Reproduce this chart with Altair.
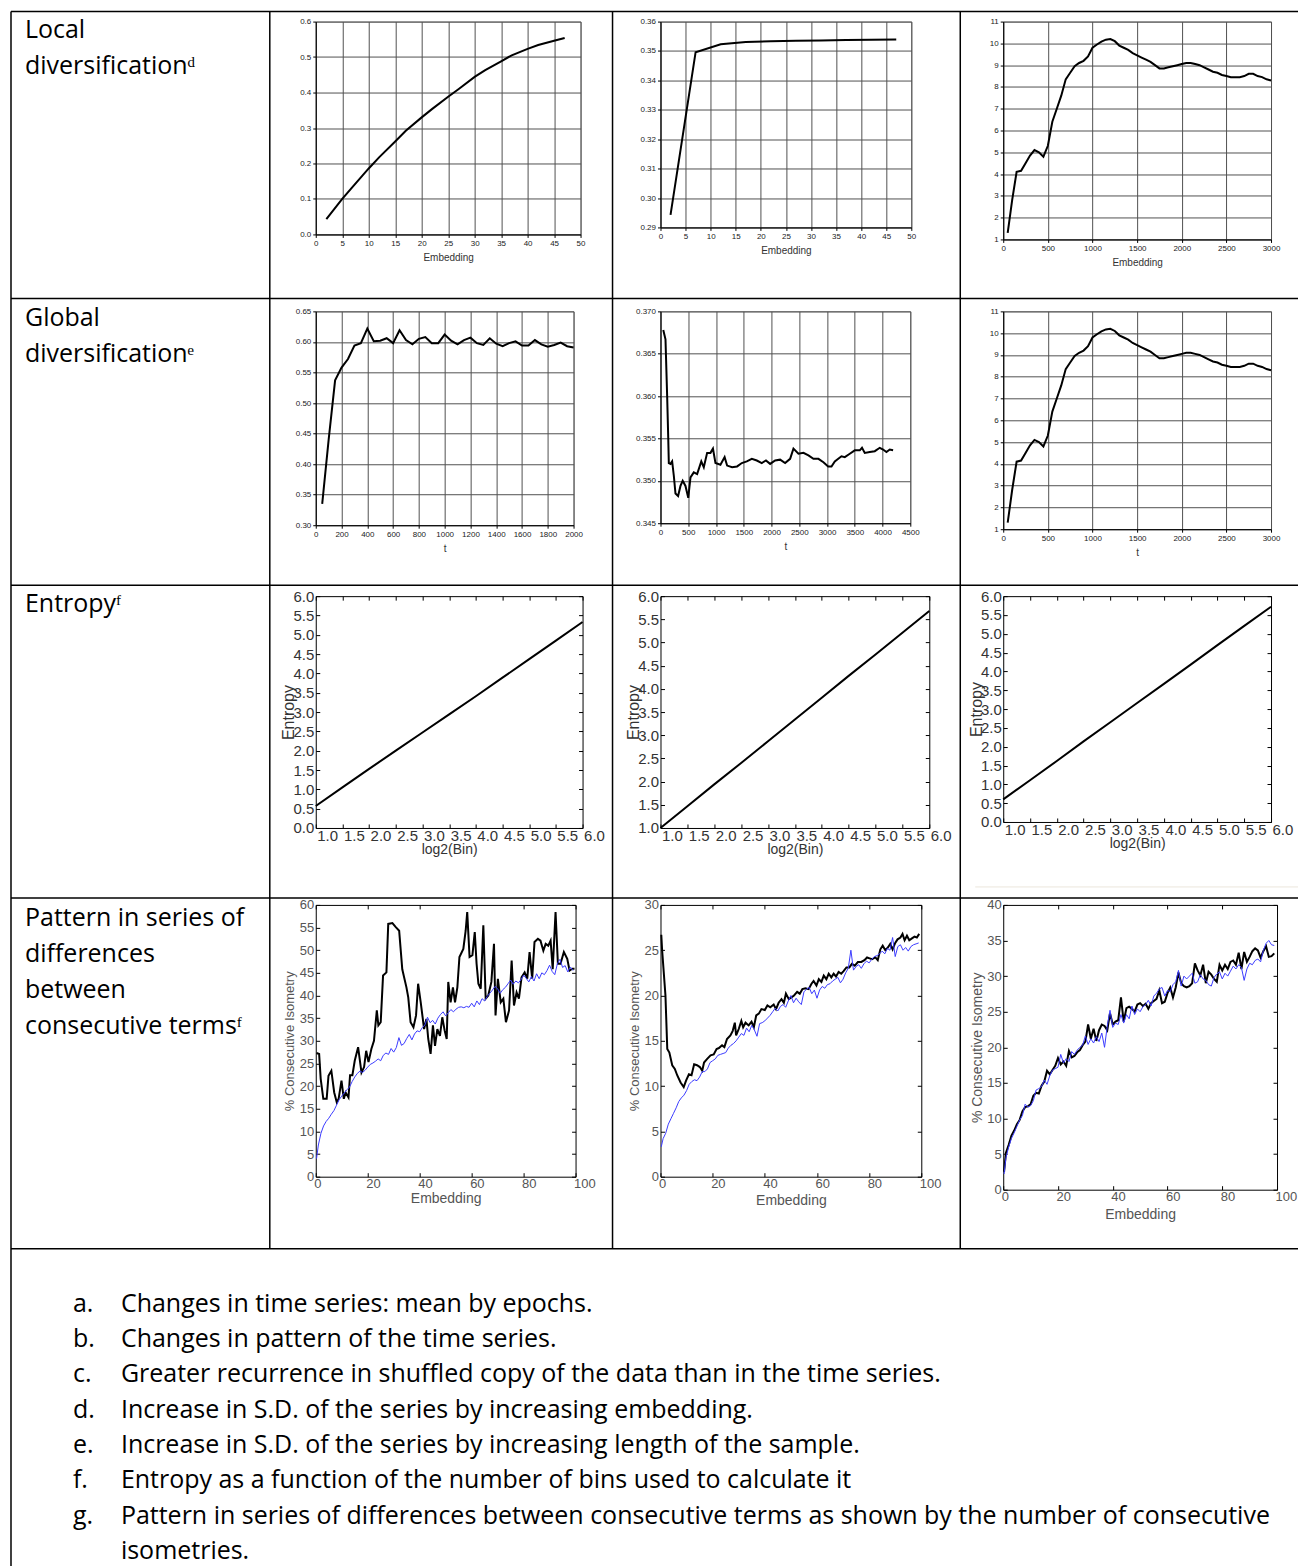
import altair as alt
import pandas as pd

TEXT_FONT = "Open Sans"
AXIS_FONT = "Liberation Sans"
TEXT_SIZE = 25
LINE_GAP = 36
FOOT_GAP = 35.4

# ---------------- texts ----------------
ROW_LABELS = [
    ["Local", "diversificationᵈ"],
    ["Global", "diversificationᵉ"],
    ["Entropyᶠ"],
    ["Pattern in series of", "differences", "between", "consecutive termsᶠ"],
]
FOOT_LETTERS = ["a.", "b.", "c.", "d.", "e.", "f.", "g.", ""]
FOOT_TEXTS = [
    "Changes in time series: mean by epochs.",
    "Changes in pattern of the time series.",
    "Greater recurrence in shuffled copy of the data than in the time series.",
    "Increase in S.D. of the series by increasing embedding.",
    "Increase in S.D. of the series by increasing length of the sample.",
    "Entropy as a function of the number of bins used to calculate it",
    "Pattern in series of differences between consecutive terms as shown by the number of consecutive",
    "isometries.",
]

# ---------------- row 1: local diversification ----------------
R1C1_X = [2, 5, 7, 10, 12, 15, 17, 20, 22, 25, 27, 30, 32, 35, 37, 40, 42, 45, 47]
R1C1_Y = [0.043, 0.100, 0.135, 0.186, 0.218, 0.262, 0.292, 0.330, 0.354, 0.388, 0.410,
          0.444, 0.463, 0.488, 0.505, 0.523, 0.534, 0.546, 0.554]
R1C1_XT = [0, 5, 10, 15, 20, 25, 30, 35, 40, 45, 50]
R1C1_YT = [0.0, 0.1, 0.2, 0.3, 0.4, 0.5, 0.6]

R1C2_X = [2, 7, 12, 17, 22, 27, 32, 37, 42, 47]
R1C2_Y = [0.2943, 0.3496, 0.3523, 0.3531, 0.3533, 0.3535, 0.3536, 0.3537, 0.3538, 0.3539]
R1C2_XT = [0, 5, 10, 15, 20, 25, 30, 35, 40, 45, 50]
R1C2_YT = [0.29, 0.30, 0.31, 0.32, 0.33, 0.34, 0.35, 0.36]

R1C3_X = [50, 100, 150, 200, 250, 300, 350, 400, 450, 500,
          550, 600, 650, 700, 750, 800, 850, 900, 950, 1000,
          1050, 1100, 1150, 1200, 1250, 1300, 1350, 1400, 1450, 1500,
          1550, 1600, 1650, 1700, 1750, 1800, 1850, 1900, 1950, 2000,
          2050, 2100, 2150, 2200, 2250, 2300, 2350, 2400, 2450, 2500,
          2550, 2600, 2650, 2700, 2750, 2800, 2850, 2900, 2950, 3000]
R1C3_Y = [1.3, 2.8, 4.1, 4.15, 4.5, 4.85, 5.1, 5.0, 4.8, 5.3,
          6.4, 7.0, 7.6, 8.35, 8.65, 8.95, 9.1, 9.2, 9.4, 9.8,
          9.95, 10.08, 10.17, 10.2, 10.1, 9.9, 9.8, 9.7, 9.55, 9.45,
          9.35, 9.25, 9.15, 9.0, 8.85, 8.85, 8.9, 8.95, 9.0, 9.05,
          9.1, 9.1, 9.05, 9.0, 8.9, 8.8, 8.7, 8.65, 8.55, 8.5,
          8.45, 8.45, 8.45, 8.5, 8.6, 8.6, 8.5, 8.45, 8.35, 8.3]
R1C3_XT = [0, 500, 1000, 1500, 2000, 2500, 3000]
R1C3_YT = [1, 2, 3, 4, 5, 6, 7, 8, 9, 10, 11]

# ---------------- row 2: global diversification ----------------
R2C1_X = [50, 100, 150, 200, 250, 300, 350, 400, 450, 500,
          550, 600, 650, 700, 750, 800, 850, 900, 950, 1000,
          1050, 1100, 1150, 1200, 1250, 1300, 1350, 1400, 1450, 1500,
          1550, 1600, 1650, 1700, 1750, 1800, 1850, 1900, 1950, 2000]
R2C1_Y = [0.335, 0.440, 0.537, 0.558, 0.572, 0.594, 0.598, 0.622, 0.601, 0.602,
          0.606, 0.598, 0.619, 0.603, 0.596, 0.605, 0.608, 0.598, 0.598, 0.612,
          0.602, 0.596, 0.603, 0.607, 0.598, 0.595, 0.606, 0.597, 0.593, 0.598,
          0.601, 0.594, 0.594, 0.603, 0.596, 0.592, 0.595, 0.599, 0.593, 0.591]
R2C1_XT = [0, 200, 400, 600, 800, 1000, 1200, 1400, 1600, 1800, 2000]
R2C1_YT = [0.30, 0.35, 0.40, 0.45, 0.50, 0.55, 0.60, 0.65]

R2C2_X = [50, 90, 120, 140, 150, 180, 210, 240, 270, 317,
          360, 400, 450, 500, 540, 600, 660, 735, 780, 840,
          900, 945, 990, 1080, 1155, 1200, 1290, 1380, 1465, 1555,
          1645, 1735, 1825, 1900, 1975, 2065, 2155, 2245, 2335, 2395,
          2485, 2575, 2665, 2755, 2845, 2935, 3020, 3080, 3140, 3260,
          3320, 3410, 3500, 3590, 3630, 3680, 3770, 3860, 3950, 4010,
          4070, 4130, 4190]
R2C2_Y = [0.3678, 0.3667, 0.3600, 0.3549, 0.3521, 0.3520, 0.3523, 0.3506, 0.3485, 0.3482,
          0.3494, 0.3500, 0.3494, 0.3480, 0.3504, 0.3510, 0.3508, 0.3523, 0.3516, 0.3533,
          0.3533, 0.3538, 0.3521, 0.3519, 0.3528, 0.3518, 0.3516, 0.3517, 0.3521, 0.3523,
          0.3526, 0.3524, 0.3521, 0.3524, 0.3520, 0.3524, 0.3525, 0.3521, 0.3526, 0.3538,
          0.3532, 0.3533, 0.3530, 0.3526, 0.3526, 0.3522, 0.3517, 0.3517, 0.3523, 0.3529,
          0.3528, 0.3532, 0.3536, 0.3536, 0.3539, 0.3533, 0.3534, 0.3535, 0.3539, 0.3537,
          0.3534, 0.3537, 0.3536]
R2C2_XT = [0, 500, 1000, 1500, 2000, 2500, 3000, 3500, 4000, 4500]
R2C2_YT = [0.345, 0.350, 0.355, 0.360, 0.365, 0.370]

# ---------------- row 3: entropy ----------------
R3_X = [1.0, 1.5, 2.0, 2.5, 3.0, 3.5, 4.0, 4.5, 5.0, 5.5, 6.0]
R3C1_Y = [0.57, 1.05, 1.53, 2.00, 2.47, 2.94, 3.41, 3.89, 4.37, 4.85, 5.33]
R3C2_Y = [1.00, 1.47, 1.94, 2.40, 2.87, 3.34, 3.81, 4.28, 4.74, 5.21, 5.68]
R3C3_Y = [0.60, 1.11, 1.62, 2.14, 2.65, 3.16, 3.67, 4.18, 4.70, 5.21, 5.72]
R3_XT = [1.0, 1.5, 2.0, 2.5, 3.0, 3.5, 4.0, 4.5, 5.0, 5.5, 6.0]
R3_YT = [0.0, 0.5, 1.0, 1.5, 2.0, 2.5, 3.0, 3.5, 4.0, 4.5, 5.0, 5.5, 6.0]
R3C2_YT = [1.0, 1.5, 2.0, 2.5, 3.0, 3.5, 4.0, 4.5, 5.0, 5.5, 6.0]

# ---------------- row 4: consecutive isometry ----------------
EMB = [0.3, 1, 2, 3, 4, 5, 6, 7, 8, 9,
       10, 11, 12, 13, 14, 15, 16, 17, 18, 19,
       20, 21, 22, 23, 24, 25, 26, 27, 28, 29,
       30, 31, 32, 33, 34, 35, 36, 37, 38, 39,
       40, 41, 42, 43, 44, 45, 46, 47, 48, 49,
       50, 51, 52, 53, 54, 55, 56, 57, 58, 59,
       60, 61, 62, 63, 64, 65, 66, 67, 68, 69,
       70, 71, 72, 73, 74, 75, 76, 77, 78, 79,
       80, 81, 82, 83, 84, 85, 86, 87, 88, 89,
       90, 91, 92, 93, 94, 95, 96, 97, 98, 99]

R4C1_BLACK_X = [0.3, 1.3, 1.9, 2.9, 4.2, 4.9, 6.0, 7.1, 8.1, 8.8,
                9.9, 10.8, 11.5, 12.6, 13.2, 14.1, 15.0, 16.3, 17.6, 18.6,
                19.4, 20.3, 21.4, 22.4, 23.5, 24.1, 25.0, 25.9, 27.2, 27.9,
                29.5, 30.8, 32.1, 33.3, 34.9, 35.6, 36.5, 37.6, 38.6, 39.4,
                40.4, 41.7, 42.6, 43.3, 44.2, 45.1, 45.9, 46.8, 47.8, 48.7,
                49.6, 50.4, 51.0, 51.9, 52.8, 53.6, 54.5, 55.3, 56.8, 57.7,
                58.3, 59.2, 60.3, 61.2, 61.9, 62.6, 63.5, 64.5, 65.4, 66.4,
                67.6, 68.6, 69.2, 70.1, 71.2, 72.2, 73.2, 74.4, 75.4, 76.3,
                77.3, 78.2, 79.2, 80.4, 81.4, 82.3, 83.3, 84.2, 85.5, 86.5,
                87.6, 88.5, 89.5, 90.4, 91.2, 92.3, 93.2, 94.2, 95.5, 96.8,
                97.7, 98.7, 99.6]
R4C1_BLACK_Y = [27.3, 27.1, 21.6, 17.2, 17.2, 22.3, 23.4, 18.6, 16.4, 17.2,
                21.2, 17.2, 18.6, 17.5, 22.4, 22.4, 25.6, 28.6, 23.0, 24.2,
                27.8, 25.3, 28.2, 30.0, 36.7, 33.4, 34.1, 44.4, 45.1, 55.8,
                56.0, 55.1, 54.3, 45.8, 41.8, 39.6, 34.1, 33.0, 35.6, 42.6,
                38.5, 32.6, 34.8, 30.4, 27.1, 33.4, 28.9, 32.6, 31.1, 35.2,
                32.3, 30.4, 43.0, 38.5, 41.8, 38.5, 41.8, 48.5, 50.3, 54.3,
                58.4, 48.5, 48.9, 54.0, 47.0, 42.6, 41.5, 55.5, 39.3, 40.0,
                43.0, 51.4, 35.6, 43.7, 38.5, 39.3, 34.1, 36.7, 47.7, 37.8,
                40.7, 39.3, 44.0, 45.1, 43.7, 49.6, 43.7, 51.8, 52.5, 52.1,
                49.9, 51.4, 51.0, 52.1, 45.8, 58.4, 47.0, 47.0, 49.6, 48.1,
                45.5, 45.9, 45.9]
R4C1_BLUE_Y = [4.0, 7.0, 9.6, 11.2, 12.2, 12.9, 13.8, 14.6, 15.8, 17.0,
               17.8, 18.5, 19.2, 19.8, 21.0, 22.0, 22.8, 23.3, 23.0, 23.5,
               24.2, 24.8, 25.1, 25.5, 26.0, 25.6, 26.8, 27.3, 27.0, 28.3,
               27.5, 28.5, 30.7, 29.0, 29.4, 30.5, 31.4, 30.2, 31.5, 32.2,
               32.0, 32.9, 33.5, 35.2, 34.0, 34.5, 33.7, 35.0, 35.8, 36.4,
               35.5, 36.2, 36.9, 36.4, 37.0, 37.4, 37.5, 37.3, 37.6, 37.4,
               38.3, 37.5, 38.8, 38.0, 39.3, 38.8, 39.8, 40.5, 41.2, 42.0,
               41.5, 40.5, 41.3, 41.8, 42.6, 43.4, 42.5, 43.2, 42.8, 43.5,
               44.5, 43.8, 43.0, 44.2, 43.2, 44.8, 43.7, 45.0, 44.6, 45.5,
               46.7, 45.3, 44.6, 47.0, 48.0, 46.2, 46.6, 45.2, 46.3, 45.5]

R4C2_BLACK_X = [0.3, 0.6, 1.9, 2.6, 3.4, 4.5, 5.5, 6.4, 7.7, 8.9,
                9.8, 10.9, 11.9, 12.9, 14.0, 15.1, 16.0, 16.7, 17.9, 19.2,
                20.4, 21.5, 22.4, 23.6, 24.5, 25.5, 26.8, 27.7, 28.5, 29.0,
                30.0, 31.0, 31.7, 32.6, 33.8, 34.9, 35.8, 36.7, 37.7, 38.7,
                40.0, 41.0, 42.1, 43.4, 44.3, 45.3, 46.4, 47.3, 48.1, 49.2,
                50.2, 51.2, 52.4, 53.4, 54.4, 55.6, 56.8, 57.9, 58.7, 59.8,
                60.7, 61.7, 62.6, 63.6, 64.5, 65.5, 66.4, 67.3, 68.3, 69.3,
                70.2, 71.3, 72.4, 73.4, 74.5, 75.7, 77.0, 78.2, 79.2, 80.2,
                81.1, 82.4, 83.3, 84.3, 85.2, 86.2, 87.2, 88.1, 89.0, 90.0,
                90.9, 92.0, 92.8, 93.6, 94.5, 95.4, 96.4, 97.4, 98.3, 99.2]
R4C2_BLACK_Y = [26.7, 25.1, 20.0, 14.1, 13.7, 12.3, 11.9, 11.2, 10.4, 9.9,
                10.6, 11.3, 11.2, 12.4, 12.3, 12.1, 11.7, 12.6, 13.0, 13.4,
                13.5, 14.1, 14.2, 14.5, 14.3, 15.2, 15.6, 16.1, 17.0, 15.6,
                16.3, 17.2, 16.5, 17.0, 16.7, 17.1, 16.5, 17.8, 18.0, 18.5,
                18.4, 18.9, 18.7, 19.0, 18.5, 19.2, 19.6, 19.2, 20.2, 19.6,
                19.8, 20.0, 20.4, 20.2, 20.7, 20.8, 20.7, 21.3, 21.6, 21.1,
                21.8, 21.5, 22.2, 21.8, 22.4, 22.0, 22.4, 22.1, 22.6, 22.4,
                22.7, 23.1, 23.1, 23.5, 23.3, 23.7, 23.7, 23.9, 24.2, 24.1,
                24.0, 24.2, 23.9, 25.1, 25.5, 25.0, 25.3, 25.7, 25.1, 25.8,
                26.2, 26.4, 26.8, 26.1, 26.6, 26.1, 26.3, 26.5, 26.4, 26.8]
R4C2_BLUE_Y = [3.3, 4.2, 4.8, 5.8, 6.4, 7.0, 7.6, 8.3, 8.7, 9.0,
               9.5, 10.2, 10.5, 10.7, 10.6, 11.0, 11.6, 11.6, 11.9, 12.6,
               12.8, 13.0, 13.4, 13.5, 13.6, 13.7, 14.2, 14.5, 14.7, 15.0,
               15.4, 15.8, 15.6, 16.4, 16.0, 16.7, 16.2, 15.5, 16.9, 17.0,
               17.2, 17.5, 17.8, 18.2, 18.6, 18.3, 18.8, 19.0, 18.7, 19.4,
               20.0, 19.2, 19.7, 19.3, 19.0, 20.4, 20.7, 20.9, 20.2, 20.6,
               19.7, 20.6, 21.0, 20.8, 21.2, 21.3, 21.6, 21.8, 22.0, 21.4,
               21.8, 22.5, 23.0, 25.0, 22.8, 23.2, 23.4, 23.0, 23.5, 23.8,
               23.6, 24.0, 24.3, 24.4, 24.6, 24.9, 24.6, 25.2, 25.0, 26.4,
               24.3, 25.4, 25.6, 25.0, 25.3, 24.9, 25.4, 25.6, 25.7, 25.8]

R4C3_BLACK_Y = [2.5, 5.2, 6.3, 7.6, 8.3, 9.2, 9.8, 11.0, 11.6, 11.7,
                12.0, 13.2, 13.6, 13.5, 14.6, 15.2, 16.7, 16.2, 16.8, 17.4,
                18.5, 17.6, 18.0, 17.4, 19.5, 18.6, 18.8, 19.3, 19.6, 20.3,
                20.8, 23.2, 21.2, 22.6, 20.9, 22.4, 23.2, 23.0, 22.4, 24.8,
                23.2, 23.6, 23.8, 27.0, 23.6, 25.5, 25.7, 25.4, 25.0, 26.0,
                26.2, 25.8, 26.1, 25.4, 26.2, 26.5, 26.8, 28.0, 26.2, 26.4,
                27.6, 28.4, 27.0, 28.4, 30.5, 29.0, 28.6, 28.4, 28.6, 29.0,
                31.8, 30.8, 30.1, 31.6, 29.0, 30.6, 30.2, 29.6, 29.2, 31.6,
                30.8, 31.6, 31.0, 32.0, 32.2, 31.6, 33.3, 31.0, 33.4, 32.0,
                32.7, 33.5, 33.9, 33.6, 32.6, 33.5, 34.2, 32.7, 32.8, 33.2]
R4C3_BLUE_Y = [2.2, 4.5, 6.0, 7.2, 8.0, 8.9, 9.8, 10.4, 12.0, 11.6,
               11.8, 12.5, 14.0, 14.2, 14.5, 15.4, 14.8, 16.0, 16.8, 17.0,
               17.2, 19.0, 17.8, 18.4, 18.0, 19.4, 19.0, 19.6, 20.0, 20.3,
               21.6, 20.4, 21.2, 20.6, 21.5, 20.8, 22.0, 20.0, 23.0, 25.2,
               22.8, 23.4, 23.2, 24.6, 23.4, 24.6, 24.0, 25.8, 24.6, 25.4,
               25.0, 25.7, 26.0, 26.6, 25.8, 27.2, 27.6, 28.2, 28.4, 27.2,
               28.0, 27.8, 28.8, 29.2, 30.8, 28.6, 30.0, 29.6, 30.0, 30.4,
               29.0, 29.2, 30.2, 29.6, 29.4, 28.8, 28.6, 29.8, 30.3, 30.6,
               29.6, 30.4, 30.0, 30.7, 31.4, 31.0, 31.6, 31.2, 29.4, 31.0,
               31.8, 31.6, 32.2, 32.4, 32.0, 33.6, 34.6, 35.0, 34.4, 34.3]

R4_XT = [0, 20, 40, 60, 80, 100]
R4C1_YT = [0, 5, 10, 15, 20, 25, 30, 35, 40, 45, 50, 55, 60]
R4C2_YT = [0, 5, 10, 15, 20, 25, 30]
R4C3_YT = [0, 5, 10, 15, 20, 25, 30, 35, 40]

BLUE = "#3b3bff"

# ---------------- layout constants ----------------
COL_GAP = 40
ROW_GAP = 60
LABEL_W = 200
LABEL_H = [230, 225, 249, 285]
LABEL_TOP = [8, 7, 8, 13]
FOOT_H = 300
FOOT_TOP = 54
SPACER_W = [305, 303, 274]
TEXT_X = -51
FOOT_LETTER_X = -3
FOOT_TEXT_X = 45
TABLE_LEFT, TABLE_RIGHT = -65, 1223
TABLE_TOP, TABLE_BOTTOM = -10, 1546
COL_LINES = [194, 537, 885]
ROW_LINES = [277, 564, 877, 1228]
FAINT_LINE = (900, 1223, 866)

DUMMY = pd.DataFrame({"k": [0]})


def excel_panel(xs, ys, xt, yt, yfmt, xtitle, w, h):
    df = pd.DataFrame({"x": xs, "y": ys})
    common = dict(grid=True, gridColor="#505050", gridWidth=1, domain=True, domainColor="#000000",
                  domainWidth=1, ticks=True, tickColor="#000000", tickSize=3, tickWidth=1,
                  labelFont=AXIS_FONT, labelFontSize=8, labelColor="#222222", labelPadding=2,
                  labelFlush=False, labelOverlap=False)
    xax = alt.Axis(values=xt, format="d", title=xtitle, titleFont=AXIS_FONT, titleFontSize=10,
                   titleFontWeight="normal", titleColor="#333333", titlePadding=5, **common)
    yax = alt.Axis(values=yt, format=yfmt, title=None, **common)
    return alt.Chart(df).mark_line(color="black", strokeWidth=2).encode(
        x=alt.X("x:Q", scale=alt.Scale(domain=[xt[0], xt[-1]], nice=False, zero=False), axis=xax),
        y=alt.Y("y:Q", scale=alt.Scale(domain=[yt[0], yt[-1]], nice=False, zero=False), axis=yax),
    ).properties(width=w, height=h, view=alt.ViewBackground(stroke="#808080", strokeWidth=1))


def tick_axis(orient, offset, vals):
    return alt.Axis(orient=orient, offset=offset, values=vals, labels=False, title=None, grid=False,
                    domain=False, ticks=True, tickSize=4, tickColor="black", tickWidth=1)


def matlab_panel(series, xt, yt, xfmt, yfmt, xtitle, ytitle, w, h, label_size, xtitle_size,
                 ytitle_size, color, xlabel_offset, xtitle_y, ytitle_x):
    xsc = alt.Scale(domain=[xt[0], xt[-1]], nice=False, zero=False)
    ysc = alt.Scale(domain=[yt[0], yt[-1]], nice=False, zero=False)
    xax = alt.Axis(values=xt, format=xfmt, title=xtitle, grid=False, domain=False, ticks=False, tickSize=0,
                   labelFont=AXIS_FONT, labelFontSize=label_size, labelColor=color, labelAlign="left",
                   labelOffset=xlabel_offset, labelPadding=1, labelFlush=False, labelOverlap=False,
                   titleFont=AXIS_FONT, titleFontSize=xtitle_size, titleFontWeight="normal",
                   titleColor=color, titleX=w / 2, titleY=xtitle_y, titleAlign="center",
                   titleBaseline="middle")
    yax = alt.Axis(values=yt, format=yfmt, title=ytitle, grid=False, domain=False, ticks=False, tickSize=0,
                   labelFont=AXIS_FONT, labelFontSize=label_size, labelColor=color, labelPadding=2,
                   labelFlush=False, labelOverlap=False,
                   titleFont=AXIS_FONT, titleFontSize=ytitle_size, titleFontWeight="normal",
                   titleColor=color, titleX=ytitle_x, titleY=h / 2, titleAlign="center",
                   titleBaseline="middle", titleAngle=270)
    layers = []
    for k, (xs, ys, col, sw) in enumerate(series):
        df = pd.DataFrame({"x": xs, "y": ys})
        layers.append(alt.Chart(df).mark_line(color=col, strokeWidth=sw).encode(
            x=alt.X("x:Q", scale=xsc, axis=xax if k == 0 else None),
            y=alt.Y("y:Q", scale=ysc, axis=yax if k == 0 else None)))
    df0 = pd.DataFrame({"x": series[0][0], "y": series[0][1]})
    for xo, yo in (("top", "right"), ("bottom", "left")):
        layers.append(alt.Chart(df0).mark_line(strokeOpacity=0).encode(
            x=alt.X("x:Q", scale=xsc, axis=tick_axis(xo, -h, xt)),
            y=alt.Y("y:Q", scale=ysc, axis=tick_axis(yo, -w, yt))))
    return alt.layer(*layers).resolve_axis(x="independent", y="independent").properties(
        width=w, height=h, view=alt.ViewBackground(stroke="black", strokeWidth=1))


def text_layer(df, x, y0, field, gap):
    return alt.Chart(df).mark_text(align="left", baseline="middle", font=TEXT_FONT,
                                   fontSize=TEXT_SIZE, color="black").encode(
        x=alt.value(x),
        y=alt.Y("i:Q", scale=alt.Scale(domain=[0, 1], range=[y0, y0 + gap], nice=False, zero=False),
                axis=None),
        text=alt.Text(f"{field}:N"))


def table_layers():
    out = []
    rule = dict(color="black", strokeWidth=1.5)
    for y in [TABLE_TOP] + ROW_LINES:
        out.append(alt.Chart(DUMMY).mark_rule(**rule).encode(
            x=alt.value(TABLE_LEFT), x2=alt.value(TABLE_RIGHT), y=alt.value(y)))
    out.append(alt.Chart(DUMMY).mark_rule(**rule).encode(
        x=alt.value(TABLE_LEFT), y=alt.value(TABLE_TOP), y2=alt.value(TABLE_BOTTOM)))
    for x in COL_LINES:
        out.append(alt.Chart(DUMMY).mark_rule(**rule).encode(
            x=alt.value(x), y=alt.value(TABLE_TOP), y2=alt.value(ROW_LINES[-1])))
    out.append(alt.Chart(DUMMY).mark_rule(color="#ebe7dc", strokeWidth=1).encode(
        x=alt.value(FAINT_LINE[0]), x2=alt.value(FAINT_LINE[1]), y=alt.value(FAINT_LINE[2])))
    return out


def label_cell(r):
    df = pd.DataFrame({"i": list(range(len(ROW_LABELS[r]))), "t": ROW_LABELS[r]})
    layers = [text_layer(df, TEXT_X, LABEL_TOP[r], "t", LINE_GAP)]
    if r == 0:
        layers += table_layers()
    return alt.layer(*layers).properties(width=LABEL_W, height=LABEL_H[r],
                                         view=alt.ViewBackground(stroke="transparent"))


def foot_cell():
    df = pd.DataFrame({"i": list(range(len(FOOT_TEXTS))), "l": FOOT_LETTERS, "t": FOOT_TEXTS})
    return alt.layer(text_layer(df, FOOT_LETTER_X, FOOT_TOP, "l", FOOT_GAP),
                     text_layer(df, FOOT_TEXT_X, FOOT_TOP, "t", FOOT_GAP)).properties(
        width=LABEL_W, height=FOOT_H, view=alt.ViewBackground(stroke="transparent"))


def spacer(w):
    return alt.Chart(DUMMY).mark_point(opacity=0).encode(x=alt.value(0), y=alt.value(0)).properties(
        width=w, height=1, view=alt.ViewBackground(stroke="transparent"))


p11 = excel_panel(R1C1_X, R1C1_Y, R1C1_XT, R1C1_YT, ".1f", "Embedding", 265, 213)
p12 = excel_panel(R1C2_X, R1C2_Y, R1C2_XT, R1C2_YT, ".2f", "Embedding", 251, 206)
p13 = excel_panel(R1C3_X, R1C3_Y, R1C3_XT, R1C3_YT, "d", "Embedding", 268, 218)
p21 = excel_panel(R2C1_X, R2C1_Y, R2C1_XT, R2C1_YT, ".2f", "t", 258, 214)
p22 = excel_panel(R2C2_X, R2C2_Y, R2C2_XT, R2C2_YT, ".3f", "t", 250, 212)
p23 = excel_panel(R1C3_X, R1C3_Y, R1C3_XT, R1C3_YT, "d", "t", 268, 218)

R3_STYLE = dict(label_size=15, xtitle_size=14, ytitle_size=16, color="#333333", xlabel_offset=1,
                xtitle_y=22, ytitle_x=-27)
p31 = matlab_panel([(R3_X, R3C1_Y, "black", 2)], R3_XT, R3_YT, ".1f", ".1f", "log2(Bin)", "Entropy",
                   267, 232, **R3_STYLE)
p32 = matlab_panel([(R3_X, R3C2_Y, "black", 2)], R3_XT, R3C2_YT, ".1f", ".1f", "log2(Bin)", "Entropy",
                   269, 232, **R3_STYLE)
p33 = matlab_panel([(R3_X, R3C3_Y, "black", 2)], R3_XT, R3_YT, ".1f", ".1f", "log2(Bin)", "Entropy",
                   268, 226, **R3_STYLE)

R4_STYLE = dict(label_size=13, xtitle_size=14, color="#555555", xlabel_offset=-2, ytitle_x=-26)
p41 = matlab_panel([(R4C1_BLACK_X, R4C1_BLACK_Y, "black", 2), (EMB, R4C1_BLUE_Y, BLUE, 1)],
                   R4_XT, R4C1_YT, "d", "d", "Embedding", "% Consecutive Isometry", 260, 272,
                   ytitle_size=13, xtitle_y=22, **R4_STYLE)
p42 = matlab_panel([(R4C2_BLACK_X, R4C2_BLACK_Y, "black", 2), (EMB, R4C2_BLUE_Y, BLUE, 1)],
                   R4_XT, R4C2_YT, "d", "d", "Embedding", "% Consecutive Isometry", 261, 272,
                   ytitle_size=13, xtitle_y=24, **R4_STYLE)
p43 = matlab_panel([(EMB, R4C3_BLACK_Y, "black", 2), (EMB, R4C3_BLUE_Y, BLUE, 1)],
                   R4_XT, R4C3_YT, "d", "d", "Embedding", "% Consecutive Isometry", 274, 285,
                   ytitle_size=14, xtitle_y=25, **R4_STYLE)

cells = [
    label_cell(0), p11, p12, p13,
    label_cell(1), p21, p22, p23,
    label_cell(2), p31, p32, p33,
    label_cell(3), p41, p42, p43,
    foot_cell(), spacer(SPACER_W[0]), spacer(SPACER_W[1]), spacer(SPACER_W[2]),
]

chart = alt.concat(*cells, columns=4, spacing={"row": ROW_GAP, "column": COL_GAP},
                   bounds="flush", align="each").properties(
    padding={"left": 1, "top": 1, "right": 0, "bottom": 0}, background="white")

chart.save("out.html", embed_options={"renderer": "svg", "actions": False})
